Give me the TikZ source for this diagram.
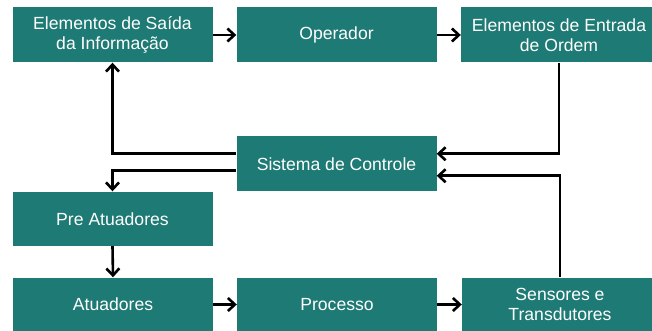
\documentclass[tikz,border=0pt]{standalone}
\usepackage{fontspec}
\setmainfont{Liberation Sans}
\usetikzlibrary{arrows.meta}
\definecolor{boxteal}{RGB}{30,122,116}
\tikzset{
  blk/.style={fill=boxteal, draw=none, text=white, minimum height=55pt, align=center,
    font=\fontsize{17.6}{19.5}\selectfont, inner sep=0pt},
  conn/.style={draw=black, line width=2.6pt, -{Straight Barb[length=7pt,width=13pt,line width=2.6pt]}}
}
\begin{document}
\begin{tikzpicture}[x=1pt,y=-1pt]
\useasboundingbox (0,0) rectangle (652,331);
\clip (0,0) rectangle (652,331);
\fill[white] (0,0) rectangle (652,331);
\node[blk, minimum width=200pt] (esi) at (112.5,35) {Elementos de Saída\\da Informação};
\node[blk, minimum width=200pt] (op) at (336.5,35) {Operador};
\node[blk, minimum width=196pt] (eeo) at (559,35) {Elementos de Entrada\\de Ordem};
\node[blk, minimum width=200pt, minimum height=54.5pt] (sc) at (336.5,163.75) {Sistema de Controle};
\node[blk, minimum width=200pt, minimum height=54.5pt] (pa) at (112.5,218.75) {Pre Atuadores};
\node[blk, minimum width=200pt, minimum height=54pt] (at) at (113,304.5) {Atuadores};
\node[blk, minimum width=200pt, minimum height=54pt] (pr) at (337,304.5) {Processo};
\node[blk, minimum width=196pt, minimum height=54pt] (st) at (560,304.5) {Sensores e\\Transdutores};
\draw[conn] (esi.east) -- (op.west);
\draw[conn] (op.east) -- (eeo.west);
\draw[conn] (eeo.south) |- ([yshift=10pt]sc.east);
\draw[conn] (st.north) |- ([yshift=-12pt]sc.east);
\draw[conn] ([yshift=10pt]sc.west) -| (esi.south);
\draw[conn] ([yshift=-7pt]sc.west) -| (pa.north);
\draw[conn] (pa.south) -- (at.north);
\draw[conn] (at.east) -- (pr.west);
\draw[conn] (pr.east) -- (st.west);
\end{tikzpicture}
\end{document}
